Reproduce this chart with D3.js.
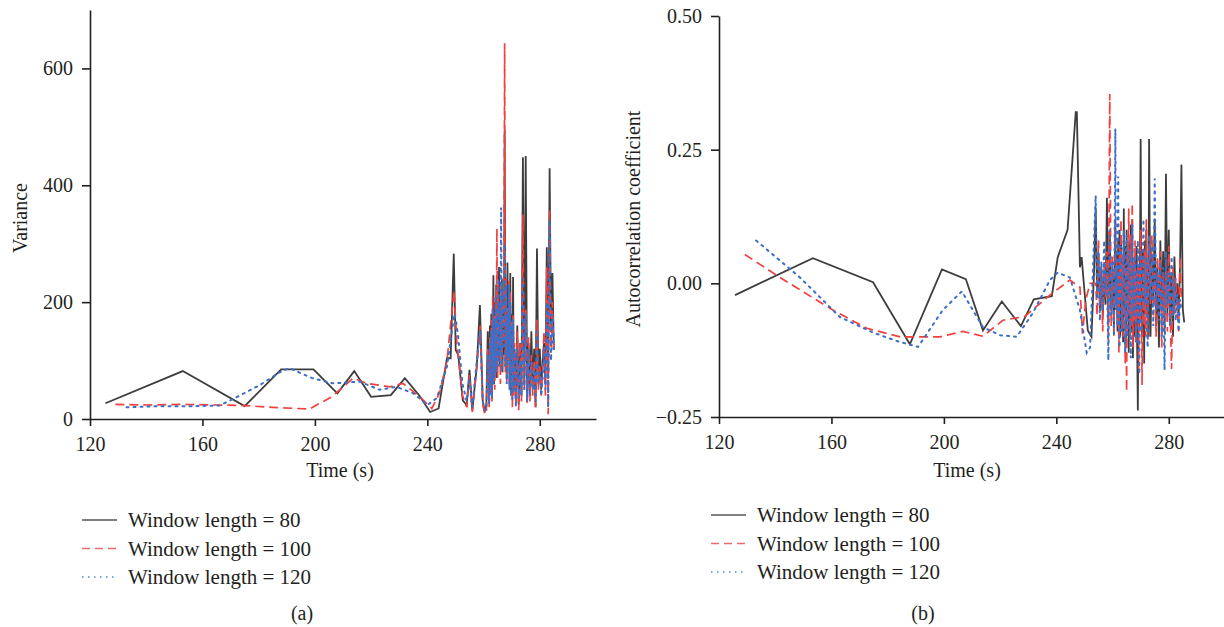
<!DOCTYPE html>
<html>
<head>
<meta charset="utf-8">
<script src="https://cdn.jsdelivr.net/npm/d3@7"></script>
<style>
  body { margin: 0; background: #fff; }
  svg text { font-family: "Liberation Serif", "DejaVu Serif", serif; fill: #231f20; }
</style>
</head>
<body>
<svg id="chart" width="1224" height="627"></svg>
<script>
// tick labels
var timeTicks = [120, 160, 200, 240, 280];
var varTicks = [0, 200, 400, 600];
var acTicks = [-0.25, 0, 0.25, 0.5];
var seriesNames = ["Window length = 80", "Window length = 100", "Window length = 120"];

// time grids of the dense tail (s), finer in the busiest part
var denseTA = [261,261.5,
  262,262.25,262.5,262.75,263,263.25,263.5,263.75,264,264.25,264.5,264.75,265,265.25,265.5,265.75,266,266.25,
  266.5,266.75,267,267.25,267.5,267.75,268,268.25,268.5,268.75,269,269.25,269.5,269.75,270,270.25,270.5,270.75,271,
  271.5,272,272.5,273,273.5,274,274.5,275,275.5,276,276.5,277,277.5,278,278.5,279,279.5,280,280.5,281,281.5,
  282,282.5,283,283.5,284,284.5,285];
var denseTB = [254,254.5,255,255.5,256,256.5,257,257.5,258,258.5,259,259.5,260,260.5,
  261,261.25,261.5,261.75,262,262.25,262.5,262.75,263,263.25,263.5,263.75,264,264.25,264.5,264.75,
  265,265.25,265.5,265.75,266,266.25,266.5,266.75,267,267.25,267.5,267.75,268,268.25,268.5,268.75,
  269,269.25,269.5,269.75,270,270.25,270.5,270.75,271,271.25,271.5,271.75,272,272.25,272.5,272.75,273,
  273.5,274,274.5,275,275.5,276,276.5,277,277.5,278,278.5,279,279.5,280,280.5,281,281.5,282,282.5,283,283.5,
  284,284.5,285,285.5];

// (a) variance, window 80
var varT80 = [125.5,153,175,188,199.5,208,214,220,227,232,237,241,244,247,248.3,249.4,250.1,251,252.6,254,255,256,257.6,258.7,259.7,260.4];
var varV80 = [27,82,22,85,85,44,82,38,41,70,41,12,18,104,104,283,118,110,32,24,84,15,90,195,32,12];
var varD80 = [25,150,
  30,160,45,180,35,120,246,60,200,80,230,70,190,100,260,90,210,120,240,80,180,110,494,90,200,70,268,100,160,60,250,50,180,40,243,60,120,
  30,160,25,130,40,448,60,450,30,130,40,150,50,120,20,292,60,120,50,100,130,60,294,80,429,150,250,118];
// (a) variance, window 100
var varT100 = [129,140,152,165,175,185,198,206,213.6,218.5,226.7,231.3,237.3,241.6,244.4,247,249.5,250.5,252.5,254,255,256,257.8,258.8,259.7,260.5];
var varV100 = [25,24,25,24,23,20,17,38,70,61,55,61,38,18,45,100,220,130,40,20,75,12,100,160,25,8];
var varD100 = [10,120,
  20,140,40,170,30,210,60,180,50,200,90,326,70,230,110,180,60,230,90,200,130,160,643,80,240,60,190,100,240,50,220,40,170,20,180,40,130,
  30,150,15,130,30,350,50,190,25,140,30,110,40,100,20,170,50,90,40,80,150,40,260,8,360,120,200,110];
// (a) variance, window 120
var varT120 = [133,145,156,166,170,180.4,187.5,191,199,206.4,216,223,229,235,240,243.4,247,249.6,250.3,251,252.5,254,255,256,257.8,258.8,259.7,260.5];
var varV120 = [20,22,22,23,32,58,80,87,70,61,64,50,55,44,24,36,90,180,165,140,60,30,70,20,110,150,30,15];
var varD120 = [15,110,
  25,130,40,150,35,190,60,170,70,210,80,190,100,240,90,200,110,362,80,220,120,170,300,90,230,60,180,110,230,50,200,40,160,30,170,50,120,
  20,120,35,100,40,240,50,180,30,120,40,100,50,90,30,150,60,80,40,70,120,50,200,20,340,100,180,120];

// (b) autocorrelation, window 80
var acT80 = [125.7,153.4,174.8,187.9,199.3,207.8,213.9,220.6,227.4,232,238.4,240.5,244,246.9,247.3,248.4,249,249.6,251.2,252.5,253.4];
var acV80 = [-0.022,0.047,0.002,-0.114,0.026,0.008,-0.088,-0.034,-0.08,-0.03,-0.024,0.049,0.1,0.32,0.32,0.03,0.049,0.011,-0.088,-0.1,0.02];
var acD80 = [0.142,-0.02,0.05,-0.05,0.03,-0.06,0.02,-0.04,0.16,-0.07,0.1,-0.05,0.02,-0.08,
  0.12,-0.04,0.06,-0.09,0.08,-0.02,0.1,-0.1,0.09,-0.05,0.04,-0.11,0.14,-0.06,0.07,-0.12,
  0.1,-0.03,0.05,-0.13,0.08,-0.07,0.11,-0.09,0.12,-0.14,0.03,-0.1,0.05,-0.06,0.07,-0.12,
  -0.238,0.02,-0.08,0.04,0.27,-0.05,-0.1,0.06,0.03,-0.15,0.08,-0.04,0.1,-0.06,0.02,-0.1,0.27,
  -0.1,0.05,-0.03,0.12,-0.08,0.03,-0.12,0.08,-0.05,0.06,-0.09,0.205,-0.06,0.1,-0.08,0.02,-0.1,0.05,-0.04,0.0,-0.06,
  0.03,0.222,-0.05,-0.073];
// (b) autocorrelation, window 100
var acT100 = [129.2,141.7,160.5,172.6,184.4,198.6,206.8,213.9,221,228.8,237.7,244.8,245.9,248.4,249.3,250.5,252];
var acV100 = [0.054,0.011,-0.05,-0.084,-0.1,-0.1,-0.09,-0.099,-0.069,-0.062,-0.022,0.006,0.002,-0.007,-0.094,-0.03,0.0];
var acD100 = [0.0,-0.06,0.08,-0.04,0.02,-0.09,0.04,-0.03,0.06,-0.11,0.354,-0.08,0.05,-0.1,
  0.1,-0.05,0.04,-0.08,0.02,-0.13,0.07,-0.03,0.12,-0.07,0.05,-0.1,0.08,-0.04,-0.15,0.03,
  -0.203,0.06,-0.06,0.14,-0.02,-0.1,0.09,-0.08,0.15,-0.12,0.04,-0.07,0.08,-0.11,0.02,-0.07,
  0.05,-0.16,0.03,-0.09,0.1,-0.04,-0.19,0.05,0.03,-0.08,0.06,-0.1,0.12,-0.05,-0.1,0.02,0.07,
  -0.04,0.09,-0.06,0.02,-0.1,0.05,-0.03,0.06,-0.12,0.02,-0.06,0.04,-0.09,0.07,-0.05,-0.16,0.03,-0.06,0.01,-0.04,
  -0.09,0.05,-0.03];
// (b) autocorrelation, window 120
var acT120 = [133.2,148.8,163,174.8,183.3,190.8,199.6,206.4,213.9,220,225.9,231.6,237.7,240.5,244.8,248.4,250.8,252];
var acV120 = [0.08,0.011,-0.063,-0.092,-0.108,-0.119,-0.05,-0.015,-0.082,-0.097,-0.1,-0.056,0.006,0.02,0.011,-0.05,-0.13,-0.12];
var acD120 = [0.164,-0.03,0.06,-0.07,0.04,-0.05,0.08,-0.02,0.03,-0.144,0.1,-0.06,0.04,-0.1,
  0.289,-0.05,0.03,-0.08,0.2,-0.04,-0.12,0.05,0.07,-0.09,-0.05,0.04,0.1,-0.02,-0.13,0.06,
  0.09,-0.1,-0.08,0.03,0.06,-0.06,-0.14,0.02,0.11,-0.03,-0.06,0.05,0.04,-0.1,-0.11,0.01,
  0.08,-0.04,-0.17,0.03,0.06,-0.07,-0.09,0.04,0.12,-0.02,-0.04,0.03,0.05,-0.08,-0.12,0.01,0.09,
  -0.03,0.07,-0.08,0.196,-0.05,0.02,-0.07,0.04,-0.1,0.03,-0.162,0.06,-0.04,0.02,-0.08,0.05,-0.06,0.01,-0.07,-0.02,
  -0.09,-0.03,-0.05];

var styles = [
  {color: "#3d3d3d", width: 1.8, dash: null, legColor: "#555", legWidth: 1.3},
  {color: "#f2403f", width: 1.7, dash: "9,5", legColor: "#ec6b6b", legWidth: 1.4},
  {color: "#3e6fc6", width: 2, dash: "2,5", legColor: "#4b8ad6", legWidth: 1.4}
];

var svg = d3.select("#chart");

// sparse head + dense tail -> [t, v] pairs
function pairs(t1, v1, t2, v2) {
  var out = [];
  for (var i = 0; i < t1.length; i++) out.push([t1[i], v1[i]]);
  for (var j = 0; j < v2.length; j++) out.push([t2[j], v2[j]]);
  return out;
}

function panel(opt) {
  var x = d3.scaleLinear().domain([120, 300]).range(opt.xr);
  var y = d3.scaleLinear().domain(opt.yd).range(opt.yr);
  var g = svg.append("g");

  var line = d3.line().x(function(d){ return x(d[0]); }).y(function(d){ return y(d[1]); });
  opt.data.forEach(function(d, k) {
    g.append("path")
      .datum(d)
      .attr("d", line)
      .attr("fill", "none")
      .attr("stroke", styles[k].color)
      .attr("stroke-width", styles[k].width)
      .attr("stroke-dasharray", styles[k].dash)
      .attr("stroke-linecap", k == 2 ? "round" : "butt");
  });

  var xa = g.append("g")
    .attr("transform", "translate(0," + opt.yr[0] + ")")
    .call(d3.axisBottom(x).tickValues(timeTicks).tickSize(7).tickPadding(11).tickSizeOuter(0));
  var ya = g.append("g")
    .attr("transform", "translate(" + opt.xr[0] + ",0)")
    .call(d3.axisLeft(y).tickValues(opt.yticks).tickFormat(opt.fmt).tickSize(8).tickPadding(9).tickSizeOuter(0));
  [xa, ya].forEach(function(a) {
    a.selectAll("path, line").attr("stroke", "#231f20").attr("stroke-width", 1.6);
    a.selectAll("text").attr("font-size", 20).attr("fill", "#231f20")
      .attr("font-family", '"Liberation Serif", serif');
  });

  g.append("text")
    .attr("x", opt.xlab[0]).attr("y", opt.xlab[1])
    .attr("text-anchor", "middle").attr("dominant-baseline", "central")
    .attr("font-size", 20).text("Time (s)");
  g.append("text")
    .attr("transform", "translate(" + opt.ylab[0] + "," + opt.ylab[1] + ") rotate(-90)")
    .attr("text-anchor", "middle").attr("dominant-baseline", "central")
    .attr("font-size", 20).text(opt.ytitle);

  // legend
  seriesNames.forEach(function(name, k) {
    var ly = opt.leg[1] + k * 28.5;
    g.append("line")
      .attr("x1", opt.leg[0]).attr("x2", opt.leg[0] + 35)
      .attr("y1", ly).attr("y2", ly)
      .attr("stroke", styles[k].legColor)
      .attr("stroke-width", styles[k].legWidth)
      .attr("stroke-dasharray", k == 1 ? "8,5" : (k == 2 ? "1.5,4.5" : null));
    g.append("text")
      .attr("x", opt.leg[0] + 46).attr("y", ly)
      .attr("dominant-baseline", "central")
      .attr("font-size", 21).text(name);
  });
  g.append("text")
    .attr("x", opt.tag).attr("y", 613)
    .attr("text-anchor", "middle").attr("dominant-baseline", "central")
    .attr("font-size", 20).text(opt.tagText);
}

panel({
  xr: [90, 596], yd: [0, 700], yr: [419, 10], yticks: varTicks,
  fmt: d3.format("d"),
  data: [pairs(varT80, varV80, denseTA, varD80), pairs(varT100, varV100, denseTA, varD100), pairs(varT120, varV120, denseTA, varD120)],
  xlab: [340, 470], ylab: [20, 218], ytitle: "Variance",
  leg: [82, 520], tag: 302, tagText: "(a)"
});

panel({
  xr: [719, 1225], yd: [-0.25, 0.5], yr: [417, 16], yticks: acTicks,
  fmt: function(d){ return d3.format(".2f")(d).replace("-", "\u2212"); },
  data: [pairs(acT80, acV80, denseTB, acD80), pairs(acT100, acV100, denseTB, acD100), pairs(acT120, acV120, denseTB, acD120)],
  xlab: [967, 470], ylab: [633, 219], ytitle: "Autocorrelation coefficient",
  leg: [711, 515], tag: 923, tagText: "(b)"
});
</script>
</body>
</html>
